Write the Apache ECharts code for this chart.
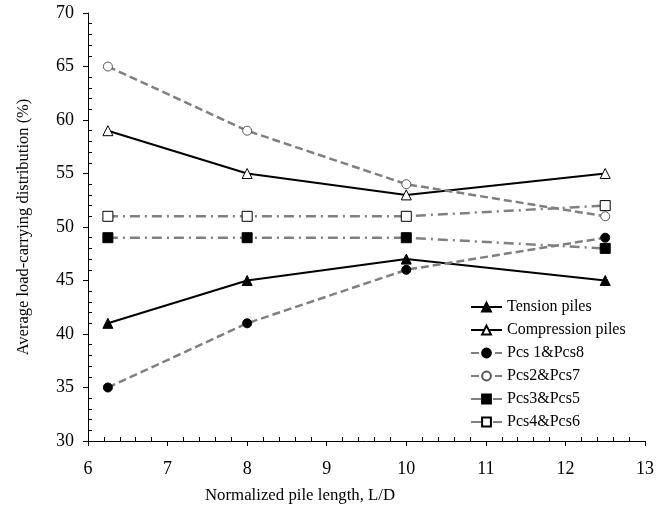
<!DOCTYPE html>
<html><head><meta charset="utf-8">
<script src="https://cdn.jsdelivr.net/npm/echarts@6/dist/echarts.min.js"></script>
<style>html,body{margin:0;padding:0;background:#fff}#c{width:665px;height:508px}</style>
</head><body><div id="c"></div>
<script>
const xValues = [6.25, 8, 10, 12.5];
const tension = [41, 45, 47, 45];
const compression = [59, 55, 53, 55];
const pcs18 = [35, 41, 46, 49];
const pcs27 = [65, 59, 54, 51];
const pcs35 = [49, 49, 49, 48];
const pcs46 = [51, 51, 51, 52];
const seriesNames = ['Tension piles', 'Compression piles', 'Pcs 1&Pcs8', 'Pcs2&Pcs7', 'Pcs3&Pcs5', 'Pcs4&Pcs6'];
const xTitle = 'Normalized pile length, L/D';
const yTitle = 'Average load-carrying distribution (%)';

const font = 'Liberation Serif';
const pair = arr => xValues.map((x, i) => [x, arr[i]]);
const dashDot = [10, 5, 2, 5];
function mk(name, data, color, width, type, symbol, size, fill, border) {
  return {
    name, type: 'line', data: pair(data), symbol, symbolSize: size,
    lineStyle: { color, width, type },
    itemStyle: { color: fill, borderColor: border, borderWidth: 1 },
    emphasis: { disabled: true }, z: 3
  };
}
const chart = echarts.init(document.getElementById('c'), null, { renderer: 'canvas' });
chart.setOption({
  animation: false,
  backgroundColor: '#fff',
  grid: { left: 88, right: 20, top: 13, bottom: 67 },
  xAxis: [{
    type: 'value', min: 6, max: 13, interval: 1, position: 'bottom',
    axisLine: { lineStyle: { color: '#000', width: 1 } },
    axisTick: { show: true, inside: false, length: 5, lineStyle: { color: '#000' } },
    axisLabel: { color: '#000', fontFamily: font, fontSize: 18, margin: 19 },
    splitLine: { show: false }
  }, {
    type: 'value', min: 6, max: 13, interval: 1, position: 'bottom',
    axisLine: { show: false },
    axisTick: { show: true, inside: true, length: 0 },
    minorTick: { show: true, splitNumber: 5, length: 4, lineStyle: { color: '#000' } },
    axisLabel: { show: false }, splitLine: { show: false }
  }],
  yAxis: [{
    type: 'value', min: 30, max: 70, interval: 5, position: 'left',
    axisLine: { show: true, lineStyle: { color: '#000', width: 1 } },
    axisTick: { show: true, inside: false, length: 5, lineStyle: { color: '#000' } },
    axisLabel: { color: '#000', fontFamily: font, fontSize: 18, margin: 14 },
    splitLine: { show: false },
    name: yTitle, nameLocation: 'middle', nameGap: 56,
    nameTextStyle: { color: '#000', fontFamily: font, fontSize: 16.5 }
  }, {
    type: 'value', min: 30, max: 70, interval: 5, position: 'left',
    axisLine: { show: false },
    axisTick: { show: true, inside: true, length: 0 },
    minorTick: { show: true, splitNumber: 5, length: 4, lineStyle: { color: '#000' } },
    axisLabel: { show: false }, splitLine: { show: false }
  }],
  graphic: [{
    type: 'text', left: 205, top: 487,
    style: { text: xTitle, fill: '#000', font: '16.8px "Liberation Serif"' }
  }],
  legend: {
    orient: 'vertical', left: 465, top: 294, itemGap: 7, itemWidth: 31, itemHeight: 11,
    textStyle: { color: '#000', fontFamily: font, fontSize: 16 },
    data: seriesNames
  },
  series: [
    mk(seriesNames[0], tension, '#000', 2, 'solid', 'triangle', 10, '#000', '#000'),
    mk(seriesNames[1], compression, '#000', 2, 'solid', 'triangle', 10, '#fff', '#000'),
    mk(seriesNames[2], pcs18, '#808080', 2.5, [8, 4], 'circle', 9, '#000', '#000'),
    mk(seriesNames[3], pcs27, '#808080', 2.5, [8, 4], 'circle', 9, '#fff', '#555'),
    mk(seriesNames[4], pcs35, '#808080', 2.5, dashDot, 'rect', 10, '#000', '#000'),
    mk(seriesNames[5], pcs46, '#808080', 2.5, dashDot, 'rect', 10, '#fff', '#000')
  ]
});
</script></body></html>
